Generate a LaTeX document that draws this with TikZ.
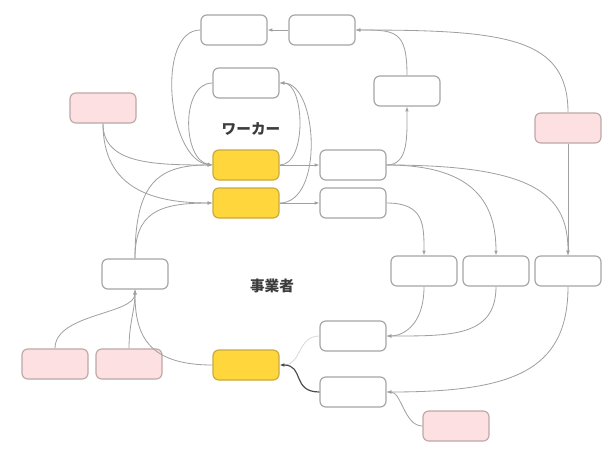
\documentclass[tikz,border=0pt]{standalone}
\usepackage{fontspec}
\newfontfamily\jpfont{Noto Sans CJK JP}
\usepackage{tikz}
\usetikzlibrary{shapes,arrows.meta}
\definecolor{edgegray}{RGB}{160,160,160}
\definecolor{boxgray}{RGB}{165,165,165}
\definecolor{gold}{RGB}{255,215,60}
\definecolor{golddark}{RGB}{200,170,60}
\definecolor{rose}{RGB}{253,225,226}
\definecolor{rosedark}{RGB}{190,168,168}
\definecolor{labelgray}{RGB}{60,60,60}
\tikzstyle{box}=[rectangle, rounded corners=5pt, draw=boxgray, line width=1pt, minimum width=1.98cm, minimum height=0.9cm, inner sep=0pt]
\tikzstyle{wbox}=[box,fill=white]
\tikzstyle{ybox}=[box,fill=gold,draw=golddark]
\tikzstyle{pbox}=[box,fill=rose,draw=rosedark]
\tikzstyle{link}=[draw=edgegray, line width=0.7pt, -{Latex[length=4pt,width=3pt]}]
\tikzstyle{group}=[font=\jpfont\bfseries\fontsize{12.5}{14}\selectfont, text=labelgray]

\begin{document}
\begin{tikzpicture}[x=0.03cm, y=-0.03cm]
	\useasboundingbox (0,0) rectangle (610,449);
	\foreach \n/\x/\y in {topa/234/30, topb/322/30, wup/246/83, rup/407/91,
		mida/353/165, midb/353/203, lmid/135/274,
		outa/424/271, outb/496/271, outc/568/271, reta/353/336, retb/353/392}{
		\node[wbox] (\n) at (\x,\y) {};
	}
	\foreach \n/\x/\y in {work/246/165, workb/246/203, firm/246/365}{
		\node[ybox] (\n) at (\x,\y) {};
	}
	\foreach \n/\x/\y in {pleft/103/108, pright/568/128, pa/55/364, pb/129/364, pc/456/426}{
		\node[pbox] (\n) at (\x,\y) {};
	}
	\node[group] (lwork) at (251,129) {ワーカー};
	\node[group] (lfirm) at (272,286) {事業者};

	% worker side
	\draw[link] (topb.west) -- (topa.east);
	\draw[link] (topa.west) .. controls +(-45,0) and +(-45,-5) .. (work.west);
	\draw[link] (wup.west) .. controls +(-32,0) and +(-30,-5) .. (work.west);
	\draw[link] (work.east) .. controls +(28,0) and +(25,0) .. (wup.east);
	\draw[link] (workb.east) .. controls +(45,0) and +(38,0) .. (wup.east);
	\draw[link] (work.east) -- (mida.west);
	\draw[link] (workb.east) -- (midb.west);
	\draw[link] (pleft.south) .. controls +(0,40) and +(-60,0) .. (work.west);
	\draw[link] (pleft.south) .. controls +(0,65) and +(-60,0) .. (workb.west);
	\draw[link] (lmid.north) .. controls +(0,-75) and +(-55,0) .. (work.west);
	\draw[link] (lmid.north) .. controls +(0,-45) and +(-55,0) .. (workb.west);
	\draw[link] (mida.east) .. controls +(22,0) and +(0,30) .. (rup.south);
	\draw[link] (rup.north) .. controls +(0,-45) and +(40,0) .. (topb.east);
	\draw[link] (pright.north) .. controls +(0,-75) and +(150,0) .. (topb.east);

	% firm side
	\draw[link] (midb.east) .. controls +(38,0) and +(0,-30) .. (outa.north);
	\draw[link] (mida.east) .. controls +(90,0) and +(0,-50) .. (outb.north);
	\draw[link] (mida.east) .. controls +(150,0) and +(0,-60) .. (outc.north);
	\draw[link] (pright.south) -- (outc.north);
	\draw[link] (outa.south) .. controls +(0,40) and +(15,0) .. (reta.east);
	\draw[link] (outb.south) .. controls +(0,50) and +(65,0) .. (reta.east);
	\draw[link] (outc.south) .. controls +(0,85) and +(125,0) .. (retb.east);
	\draw[link] (pc.west) .. controls +(-18,0) and +(15,0) .. (retb.east);
	\draw[link, draw=gray!30] (reta.west) .. controls +(-22,0) and +(22,0) .. (firm.east);
	\draw[link, draw=black!70, line width=1pt] (retb.west) .. controls +(-28,0) and +(25,0) .. (firm.east);
	\draw[link] (firm.west) .. controls +(-65,0) and +(0,45) .. (lmid.south);
	\draw[link] (pa.north) .. controls +(0,-35) and +(0,25) .. (lmid.south);
	\draw[link] (pb.north) .. controls +(0,-25) and +(0,20) .. (lmid.south);
\end{tikzpicture}
\end{document}
